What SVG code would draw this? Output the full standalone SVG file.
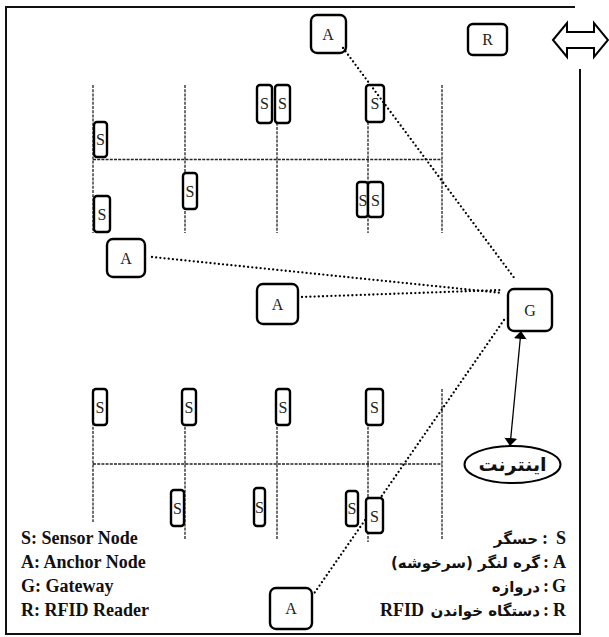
<svg xmlns="http://www.w3.org/2000/svg" width="609" height="637" viewBox="0 0 609 637">
<defs>
<style>
.box{fill:#fff;stroke:#000;stroke-width:2.4}
.nf{fill:none}
.lbl{font-family:"Liberation Serif",serif;font-size:16px;fill:#222;text-anchor:middle}
.grid{stroke:#222;stroke-width:1.3;stroke-dasharray:3 1.2;fill:none}
.dot{stroke:#000;stroke-width:2.3;stroke-linecap:round;stroke-dasharray:0 4.2;fill:none}
.leg{font-family:"Liberation Serif",serif;font-size:18px;font-weight:bold;fill:#111}
.fa{font-family:"DejaVu Sans",sans-serif;font-size:15px;font-weight:bold;fill:#111;text-anchor:end}
</style>
<marker id="ah" viewBox="0 0 10 10" refX="10" refY="5" markerWidth="8" markerHeight="13" markerUnits="userSpaceOnUse" orient="auto-start-reverse" preserveAspectRatio="none">
<path d="M0,0 L10,5 L0,10 Z" fill="#000"/>
</marker>
</defs>
<rect width="609" height="637" fill="#fff"/>
<path d="M580 69 V634 H6 V7 H575" fill="none" stroke="#111" stroke-width="2"/>
<path d="M553,40 L567,23 L567,32 L594,32 L594,23 L608,40 L594,57 L594,48 L567,48 L567,57 Z" fill="#fff" stroke="#000" stroke-width="2" stroke-linejoin="miter"/>
<g id="grid">
<path class="grid" d="M93 85V233M185 85V233M277 85V233M368 122V233M442 85V233M93 159.5H442"/>
<path class="grid" d="M93 389V522M185 389V540M277 389V540M368 389V542M442 389V540M93 464H442"/>
</g>
<g id="connectors">
<line class="dot" x1="343" y1="48" x2="515" y2="279"/>
<line class="dot" x1="152" y1="257" x2="502" y2="293"/>
<line class="dot" x1="302" y1="297" x2="502" y2="290"/>
<line class="dot" x1="504" y1="320" x2="313" y2="595"/>
<line x1="521" y1="331" x2="510" y2="446" stroke="#000" stroke-width="1.3" marker-start="url(#ah)" marker-end="url(#ah)"/>
</g>
<g id="A_top"><rect class="box nf" x="311" y="15" width="35" height="38" rx="6"/><text class="lbl" x="328" y="40">A</text></g>
<g id="R"><rect class="box" x="468" y="24" width="39" height="31" rx="5"/><text class="lbl" x="487.5" y="45">R</text></g>
<g id="S1"><rect class="box" x="257" y="85" width="15" height="38" rx="3"/><text class="lbl" x="264.5" y="109">S</text></g>
<g id="S2"><rect class="box" x="275" y="85" width="15" height="38" rx="3"/><text class="lbl" x="282.5" y="109">S</text></g>
<g id="S3"><rect class="box nf" x="366" y="85" width="18" height="37" rx="3"/><text class="lbl" x="375" y="109">S</text></g>
<g id="S4"><rect class="box" x="94" y="122" width="13" height="35" rx="3"/><text class="lbl" x="100.5" y="145">S</text></g>
<g id="S5"><rect class="box" x="183" y="173" width="14" height="36" rx="3"/><text class="lbl" x="190" y="197">S</text></g>
<g id="S6"><rect class="box" x="94" y="196" width="16" height="36" rx="3"/><text class="lbl" x="102" y="220">S</text></g>
<g id="S7"><rect class="box" x="357" y="182" width="11" height="35" rx="3"/><text class="lbl" x="363" y="206">S</text></g>
<g id="S8"><rect class="box" x="368" y="182" width="15" height="35" rx="3"/><text class="lbl" x="375.5" y="206">S</text></g>
<g id="A1"><rect class="box" x="107" y="239" width="38" height="38" rx="6"/><text class="lbl" x="126" y="264">A</text></g>
<g id="A2"><rect class="box" x="257" y="284" width="41" height="40" rx="6"/><text class="lbl" x="277.5" y="310">A</text></g>
<g id="G"><rect class="box" x="508" y="289" width="44" height="42" rx="6"/><text class="lbl" x="530" y="316">G</text></g>
<g id="Internet"><ellipse cx="512.5" cy="464.5" rx="48" ry="18.5" fill="#fff" stroke="#000" stroke-width="2"/><text x="512.5" y="471" font-family="'DejaVu Sans',sans-serif" font-size="19" font-weight="bold" text-anchor="middle" fill="#111">اینترنت</text></g>
<g id="S9"><rect class="box" x="93" y="389" width="14" height="36" rx="3"/><text class="lbl" x="100" y="413">S</text></g>
<g id="S10"><rect class="box" x="182" y="389" width="14" height="36" rx="3"/><text class="lbl" x="189" y="413">S</text></g>
<g id="S11"><rect class="box" x="276" y="389" width="14" height="36" rx="3"/><text class="lbl" x="283" y="413">S</text></g>
<g id="S12"><rect class="box" x="366" y="389" width="17" height="36" rx="3"/><text class="lbl" x="374.5" y="413">S</text></g>
<g id="S13"><rect class="box" x="171" y="490" width="13" height="36" rx="3"/><text class="lbl" x="177.5" y="514">S</text></g>
<g id="S14"><rect class="box" x="254" y="488" width="11" height="38" rx="3"/><text class="lbl" x="259.5" y="513">S</text></g>
<g id="S15"><rect class="box" x="346" y="491" width="12" height="35" rx="3"/><text class="lbl" x="352" y="514">S</text></g>
<g id="S16"><rect class="box" x="366" y="498" width="17" height="35" rx="3"/><text class="lbl" x="374.5" y="522">S</text></g>
<g id="A3"><rect class="box" x="270" y="588" width="42" height="41" rx="6"/><text class="lbl" x="291" y="614">A</text></g>
<g id="legend-en">
<text class="leg" x="21" y="544">S: Sensor Node</text>
<text class="leg" x="21" y="568">A: Anchor Node</text>
<text class="leg" x="21" y="592">G: Gateway</text>
<text class="leg" x="21" y="616">R: RFID Reader</text>
</g>
<g id="legend-fa">
<text class="leg" x="566" y="544" text-anchor="end">S</text>
<text class="leg" x="545" y="544" text-anchor="middle">:</text>
<text class="fa" x="538" y="544">حسگر</text>
<text class="leg" x="566" y="568" text-anchor="end">A</text>
<text class="leg" x="546" y="568" text-anchor="middle">:</text>
<text class="fa" x="540" y="568">&#x200F;گره لنگر (سرخوشه)&#x200F;</text>
<text class="leg" x="566" y="592" text-anchor="end">G</text>
<text class="leg" x="546" y="592" text-anchor="middle">:</text>
<text class="fa" x="540" y="592">دروازه</text>
<text class="leg" x="566" y="616" text-anchor="end">R</text>
<text class="leg" x="546" y="616" text-anchor="middle">:</text>
<text class="fa" x="540" y="616">دستگاه خواندن</text>
<text class="leg" x="424" y="616" text-anchor="end" font-size="15">RFID</text>
</g>
</svg>
